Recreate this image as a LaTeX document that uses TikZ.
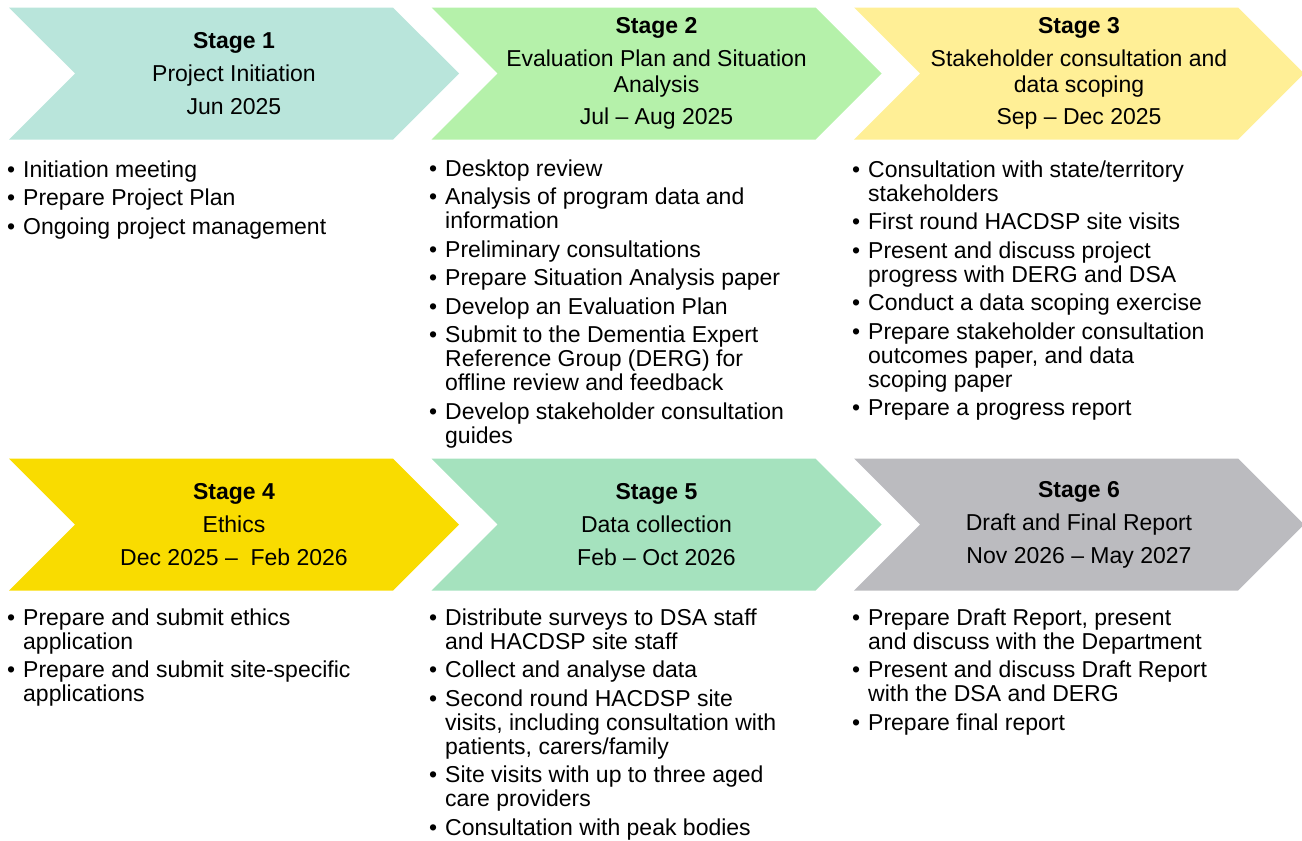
\documentclass[tikz,border=0pt]{standalone}
\usepackage{fontspec}
\setmainfont{Liberation Sans}
\usetikzlibrary{shapes.symbols}

\definecolor{stageone}{HTML}{B9E5DB}
\definecolor{stagetwo}{HTML}{B5F1AA}
\definecolor{stagethree}{HTML}{FFEF96}
\definecolor{stagefour}{HTML}{F9DC00}
\definecolor{stagefive}{HTML}{A5E2BE}
\definecolor{stagesix}{HTML}{BBBBBF}

\newcommand{\bl}[1]{\makebox[16pt][l]{\textbullet}#1}
\newcommand{\cn}{\hspace*{16pt}}

\tikzset{
    stage/.style={signal, signal to=east, signal from=west, signal pointer angle=90,
        minimum width=450pt, minimum height=132pt, inner sep=0pt, align=center,
        font=\fontsize{23}{24}\selectfont},
    tasks/.style={anchor=north west, inner sep=0pt, align=left,
        font=\fontsize{23}{24}\selectfont}
}

\begin{document}
\begin{tikzpicture}[x=1pt, y=-1pt]
            \useasboundingbox (0,0) rectangle (1302,841);
            % top row
            \node[stage, fill=stageone] (s1) at (234,73.5)
                {\textbf{Stage 1}\\[9pt] Project Initiation\\[9pt] Jun 2025};
            \node[stage, fill=stagetwo] (s2) at (656.5,73.5)
                {\textbf{Stage 2}\\[9pt] Evaluation Plan and Situation\\[2pt] Analysis\\[8pt] Jul -- Aug 2025};
            \node[stage, fill=stagethree] (s3) at (1079,73.5)
                {\textbf{Stage 3}\\[9pt] Stakeholder consultation and\\[2pt] data scoping\\[8pt] Sep -- Dec 2025};
            % bottom row
            \node[stage, fill=stagefour] (s4) at (234,524.5)
                {\textbf{Stage 4}\\[9pt] Ethics\\[9pt] Dec 2025 --~ Feb 2026};
            \node[stage, fill=stagefive] (s5) at (656.5,524.5)
                {\textbf{Stage 5}\\[9pt] Data collection\\[9pt] Feb -- Oct 2026};
            \node[stage, fill=stagesix] (s6) at (1079,524.5)
                {\textbf{Stage 6}\\[9pt] Draft and Final Report\\[9pt] Nov 2026 -- May 2027};
            % task lists
            \node[tasks] (t1) at (7,160) {\strut\bl{Initiation meeting}\\[4.5pt]
                \bl{Prepare Project Plan}\\[4.5pt]
                \bl{Ongoing project management}};
            \node[tasks] (t2) at (429,159) {\strut\bl{Desktop review}\\[4.5pt]
                \bl{Analysis of program data and}\\ \cn information\\[4.5pt]
                \bl{Preliminary consultations}\\[4.5pt]
                \bl{Prepare Situation Analysis paper}\\[4.5pt]
                \bl{Develop an Evaluation Plan}\\[4.5pt]
                \bl{Submit to the Dementia Expert}\\ \cn Reference Group (DERG) for\\ \cn offline review and feedback\\[4.5pt]
                \bl{Develop stakeholder consultation}\\ \cn guides};
            \node[tasks] (t3) at (852,160) {\strut\bl{Consultation with state/territory}\\ \cn stakeholders\\[4.5pt]
                \bl{First round HACDSP site visits}\\[4.5pt]
                \bl{Present and discuss project}\\ \cn progress with DERG and DSA\\[4.5pt]
                \bl{Conduct a data scoping exercise}\\[4.5pt]
                \bl{Prepare stakeholder consultation}\\ \cn outcomes paper, and data\\ \cn scoping paper\\[4.5pt]
                \bl{Prepare a progress report}};
            \node[tasks] (t4) at (7,608) {\strut\bl{Prepare and submit ethics}\\ \cn application\\[4.5pt]
                \bl{Prepare and submit site-specific}\\ \cn applications};
            \node[tasks] (t5) at (429,608) {\strut\bl{Distribute surveys to DSA staff}\\ \cn and HACDSP site staff\\[4.5pt]
                \bl{Collect and analyse data}\\[4.5pt]
                \bl{Second round HACDSP site}\\ \cn visits, including consultation with\\ \cn patients, carers/family\\[4.5pt]
                \bl{Site visits with up to three aged}\\ \cn care providers\\[4.5pt]
                \bl{Consultation with peak bodies}};
            \node[tasks] (t6) at (852,608) {\strut\bl{Prepare Draft Report, present}\\ \cn and discuss with the Department\\[4.5pt]
                \bl{Present and discuss Draft Report}\\ \cn with the DSA and DERG\\[4.5pt]
                \bl{Prepare final report}};
        \end{tikzpicture}
\end{document}
